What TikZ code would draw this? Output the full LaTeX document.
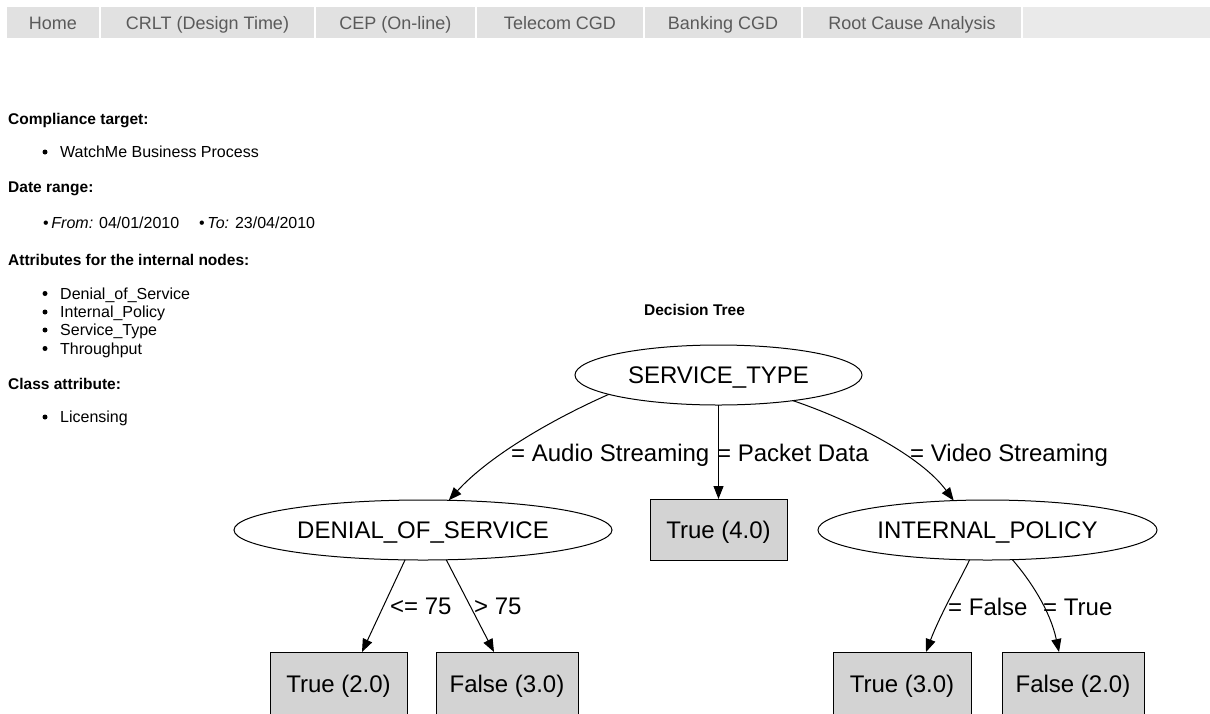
\documentclass[tikz,border=0pt]{standalone}
\usepackage{fontspec}
\setmainfont{Liberation Sans}
\usetikzlibrary{shapes.geometric,arrows.meta}
\definecolor{tabfill}{HTML}{E1E1E1}
\definecolor{tabrest}{HTML}{EAEAEA}
\definecolor{tabtext}{HTML}{5A5A5A}
\definecolor{leafgray}{HTML}{D3D3D3}
\newcommand\treefont{\fontsize{24pt}{28pt}\selectfont}
\newcommand\tabfont{\fontsize{18pt}{21pt}\selectfont}
\newcommand\listfont{\fontsize{16pt}{18.5pt}\selectfont}
\newcommand\headfont{\fontsize{15.5pt}{18pt}\selectfont\bfseries}
\begin{document}
\begin{tikzpicture}[x=1pt,y=-1pt,
  tabbox/.style={rectangle, fill=tabfill, inner sep=0pt, outer sep=0pt, minimum height=31pt,
    font=\tabfont, text=tabtext, text height=13pt, text depth=0pt},
  restbox/.style={rectangle, fill=tabrest, inner sep=0pt, outer sep=0pt, minimum height=31pt},
  head/.style={anchor=base west, inner sep=0pt, font=\headfont},
  item/.style={anchor=base west, inner sep=0pt, font=\listfont},
  dot/.style={circle, fill=black, inner sep=0pt, minimum size=5pt},
  oval/.style={draw, ellipse, inner sep=0pt, outer sep=0pt, line width=1pt, minimum height=60pt,
    font=\treefont, text height=17pt, text depth=0pt},
  leaf/.style={draw, fill=leafgray, rectangle, inner sep=0pt, outer sep=0pt, line width=1pt,
    font=\treefont, text height=17pt, text depth=0pt},
  lbl/.style={anchor=base west, inner sep=0pt, font=\treefont},
  edge/.style={line width=1pt, -{Triangle[length=13pt,width=10pt]}}
]
\useasboundingbox (0,0) rectangle (1210,713);
\clip (0,0) rectangle (1210,713);
\fill[white] (0,0) rectangle (1210,713);

% tab bar
\node[tabbox, minimum width=92pt] (tHome) at (53,22.5) {Home};
\node[tabbox, minimum width=213pt] (tCRLT) at (207.5,22.5) {CRLT (Design Time)};
\node[tabbox, minimum width=159pt] (tCEP) at (395.5,22.5) {CEP (On-line)};
\node[tabbox, minimum width=166pt] (tTel) at (560,22.5) {Telecom CGD};
\node[tabbox, minimum width=156pt] (tBank) at (723,22.5) {Banking CGD};
\node[tabbox, minimum width=218pt] (tRoot) at (912,22.5) {Root Cause Analysis};
\node[restbox, minimum width=187pt] (tRest) at (1116.5,22.5) {};

% left panel
\node[head] (h1) at (8,124) {Compliance target:};
\node[dot] (b1) at (45,152) {};
\node[item] (i1) at (60,157.5) {WatchMe Business Process};
\node[head] (h2) at (8,192.5) {Date range:};
\node[item] (from) at (43,228.5) {•\,\textit{From:} 04/01/2010};
\node[item] (to) at (199,228.5) {•\,\textit{To:} 23/04/2010};
\node[head] (h3) at (8,265.5) {Attributes for the internal nodes:};
\node[dot] (b2) at (45,293.5) {};
\node[item] (i2) at (60,299) {Denial\_of\_Service};
\node[dot] (b3) at (45,312) {};
\node[item] (i3) at (60,317.5) {Internal\_Policy};
\node[dot] (b4) at (45,330) {};
\node[item] (i4) at (60,335.5) {Service\_Type};
\node[dot] (b5) at (45,348.5) {};
\node[item] (i5) at (60,354) {Throughput};
\node[head] (h4) at (8,389) {Class attribute:};
\node[dot] (b6) at (45,417) {};
\node[item] (i6) at (60,422.5) {Licensing};

% decision tree
\node[anchor=base, inner sep=0pt, font=\headfont] (title) at (694.5,315.5) {Decision Tree};

\node[oval, minimum width=287pt] (st) at (718.5,375) {SERVICE\_TYPE};
\node[oval, minimum width=378pt] (den) at (423,530) {DENIAL\_OF\_SERVICE};
\node[oval, minimum width=339pt] (ip) at (987.5,530) {INTERNAL\_POLICY};
\node[leaf, minimum width=137pt, minimum height=61pt] (t4) at (718.5,529.5) {True (4.0)};
\node[leaf, minimum width=137pt, minimum height=64pt] (t2) at (338.5,684) {True (2.0)};
\node[leaf, minimum width=142pt, minimum height=64pt] (f3) at (507,684) {False (3.0)};
\node[leaf, minimum width=138pt, minimum height=64pt] (t3) at (902,684) {True (3.0)};
\node[leaf, minimum width=142pt, minimum height=64pt] (f2) at (1073,684) {False (2.0)};

\draw[edge] (st.190.5) .. controls (555,418) and (490,455) .. (den.49);
\draw[edge] (st.south) -- (t4.north);
\draw[edge] (st.341.8) .. controls (850,420) and (920,455) .. (ip.139);
\draw[edge] (den.239) -- ([xshift=23.5pt]t2.north);
\draw[edge] (den.308.7) -- ([xshift=-13pt]f3.north);
\draw[edge] (ip.239.7) .. controls (962,576) and (940,615) .. ([xshift=24pt]t3.north);
\draw[edge] (ip.310.4) .. controls (1030,580) and (1050,610) .. ([xshift=-14pt]f2.north);

\node[lbl] (la) at (511,461) {= Audio Streaming};
\node[lbl] (lp) at (717,461) {= Packet Data};
\node[lbl] (lv) at (910,461) {= Video Streaming};
\node[lbl] (l1) at (390,614.5) {<= 75};
\node[lbl] (l2) at (474,614.5) {> 75};
\node[lbl] (l3) at (948,615) {= False};
\node[lbl] (l4) at (1043,615) {= True};
\end{tikzpicture}
\end{document}
